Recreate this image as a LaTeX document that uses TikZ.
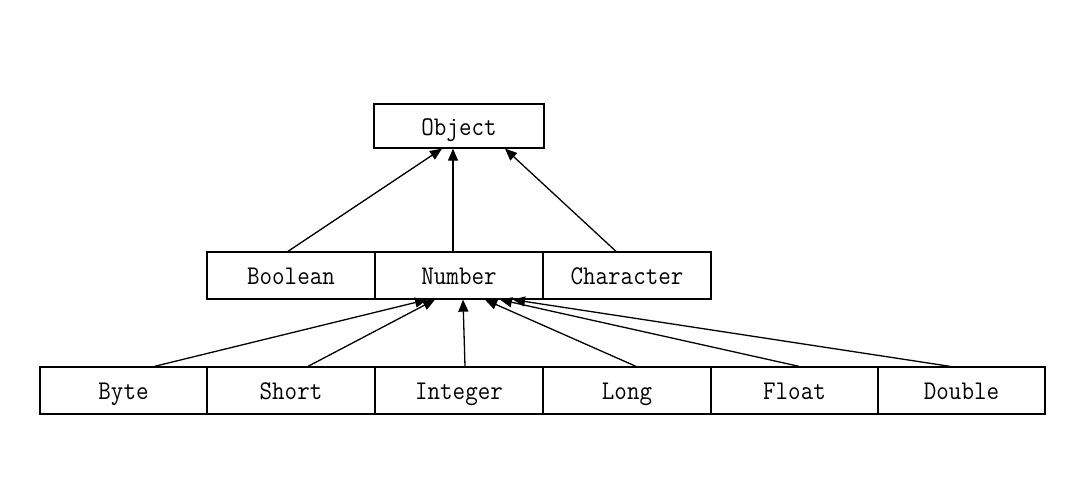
\documentclass[tikz,border=0pt]{standalone}
\usepackage{fontspec}
\newfontfamily\boxfont[FakeStretch=0.9]{Latin Modern Mono}
\usetikzlibrary{arrows.meta,calc}
\begin{document}
\begin{tikzpicture}[x=1pt,y=-1pt,
  cls/.style={draw,line width=1.3pt,minimum height=47pt,inner sep=0pt,
    text height=22pt,text depth=4pt,
    font=\boxfont\fontsize{27}{28}\selectfont},
  inh/.style={line width=1.3pt,-{Triangle[length=12pt,width=10pt]}}]
\useasboundingbox (0,0) rectangle (1080,499);
% top class
\node[cls,minimum width=170pt,minimum height=44pt] (object) at (459,126) {Object};
% middle row
\node[cls,minimum width=168pt] (boolean)   at (291,275.5) {Boolean};
\node[cls,minimum width=168pt] (number)    at (459,275.5) {Number};
\node[cls,minimum width=168pt] (character) at (627,275.5) {Character};
% bottom row
\node[cls,minimum width=167pt] (byte)    at (123.5,390.5) {Byte};
\node[cls,minimum width=168pt] (short)   at (291,390.5)   {Short};
\node[cls,minimum width=168pt] (integer) at (459,390.5)   {Integer};
\node[cls,minimum width=168pt] (long)    at (627,390.5)   {Long};
\node[cls,minimum width=167pt] (float)   at (794.5,390.5) {Float};
\node[cls,minimum width=167pt] (double)  at (961.5,390.5) {Double};
% inheritance to Object
\draw[inh] ($(boolean.north)+(-3,0)$)   -- ($(object.south)+(-17,0)$);
\draw[inh] ($(number.north)+(-6,0)$)    -- ($(object.south)+(-6,0)$);
\draw[inh] ($(character.north)+(-11,0)$) -- ($(object.south)+(46,0)$);
% inheritance to Number
\draw[inh] ($(byte.north)+(31,0)$)     -- ($(number.south)+(-32,0)$);
\draw[inh] ($(short.north)+(17,0)$)    -- ($(number.south)+(-24,0)$);
\draw[inh] ($(integer.north)+(6,0)$)   -- ($(number.south)+(4,0)$);
\draw[inh] ($(long.north)+(9,0)$)      -- ($(number.south)+(26,0)$);
\draw[inh] ($(float.north)+(4.5,0)$)   -- ($(number.south)+(41,0)$);
\draw[inh] ($(double.north)+(-11.5,0)$) -- ($(number.south)+(54,0)$);
\end{tikzpicture}
\end{document}
